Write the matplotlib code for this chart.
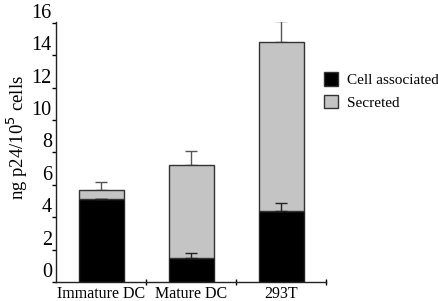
import numpy as np
import matplotlib
matplotlib.use('Agg')
import matplotlib.pyplot as plt
from matplotlib.patches import Patch

plt.rcParams['font.family'] = ['Liberation Serif', 'DejaVu Serif']

# data
categories = ['Immature DC', 'Mature DC', '293T']
cell_assoc = [5.1, 1.5, 4.4]
cell_err = [0.0, 0.3, 0.5]
secreted = [0.6, 5.7, 10.4]
total_err = [0.5, 0.9, 1.3]
yticks = [0, 2, 4, 6, 8, 10, 12, 14, 16]

fig = plt.figure(figsize=(4.39, 3.01), dpi=100)
ax = fig.add_axes([56 / 439, 19 / 301, 270 / 439, 260 / 301])

x = np.arange(len(categories))
totals = np.array(cell_assoc) + np.array(secreted)

# error bars first so the bars cover the lower half
ax.errorbar(x, totals, yerr=[np.zeros(3), total_err], fmt='none',
            ecolor='#555555', elinewidth=1, capsize=4, capthick=1, zorder=1)
ax.errorbar(x, cell_assoc, yerr=[np.zeros(3), cell_err], fmt='none',
            ecolor='#222222', elinewidth=1, capsize=4, capthick=1, zorder=3)

ax.bar(x, cell_assoc, width=0.5, color='black', edgecolor='#222222',
       linewidth=1, zorder=2)
ax.bar(x, secreted, width=0.5, bottom=cell_assoc, color='#c4c4c4',
       edgecolor='#333333', linewidth=1, zorder=2)

ax.set_xlim(-0.5, 2.5)
ax.set_ylim(0, 16.05)
ax.set_yticks(yticks)
ax.set_yticklabels([str(t) for t in yticks], fontsize=14.5)
for lab in ax.get_yticklabels():
    lab.set_verticalalignment('bottom')
ax.tick_params(axis='y', direction='out', length=3, pad=0, width=1)

ax.set_xticks(x)
ax.set_xticklabels(categories, fontsize=11.5)
ax.tick_params(axis='x', which='major', length=0, pad=3)
ax.set_xticks([0.5, 1.5, 2.5], minor=True)
ax.tick_params(axis='x', which='minor', direction='inout', length=5, width=1)

for s in ['top', 'right']:
    ax.spines[s].set_visible(False)
for s in ['left', 'bottom']:
    ax.spines[s].set_linewidth(1)
    ax.spines[s].set_color('#222222')

# y label placed by hand, as in the original
fig.text(17 / 439, 1 - 138 / 301, 'ng p24/10$^5$ cells', rotation=90,
         ha='center', va='center', fontsize=13.5)

handles = [Patch(facecolor='black', edgecolor='#333333', label='Cell associated'),
           Patch(facecolor='#c4c4c4', edgecolor='#333333', label='Secreted')]
fig.legend(handles=handles, loc='upper left', bbox_to_anchor=(318 / 439, 1 - 66 / 301),
           frameon=False, fontsize=11, handlelength=0.9, handleheight=1.0,
           handletextpad=0.6, labelspacing=0.5, borderaxespad=0)

fig.savefig('out.png', dpi=100)
